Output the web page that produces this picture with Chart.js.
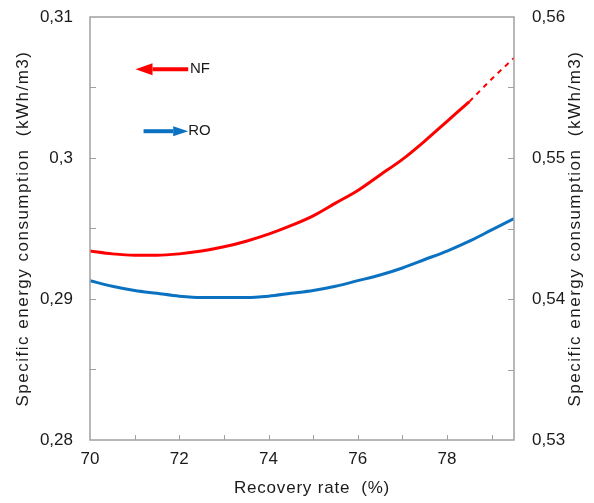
<!DOCTYPE html>
<html>
<head>
<meta charset="utf-8">
<script src="https://cdn.jsdelivr.net/npm/chart.js@4/dist/chart.umd.min.js"></script>
<style>
  html, body { margin: 0; padding: 0; background: #fff; }
  #wrap { width: 594px; height: 503px; position: relative; }
</style>
</head>
<body>
<div id="wrap"><canvas id="secChart"></canvas></div>
<script>
// Recovery rate (%) for each curve
const recovery = [70, 70.5, 71, 71.5, 72, 72.5, 73, 73.5, 74, 74.5, 75, 75.5, 76, 76.5, 77, 77.5, 78, 78.5, 79, 79.5];
// NF specific energy consumption (left axis, kWh/m3) - solid part up to 78.5
const nfSolid = [0.2934, 0.2932, 0.2931, 0.2931, 0.2932, 0.2934, 0.2937, 0.2941, 0.2946, 0.2952, 0.2959, 0.2968, 0.2977, 0.2988, 0.2999, 0.3012, 0.3026, 0.3040];
// NF extrapolated (dashed) part
const nfDashedX = [78.5, 79, 79.5];
const nfDashed = [0.3040, 0.3056, 0.3071];
// RO specific energy consumption (right axis, kWh/m3)
const roValues = [0.5413, 0.5409, 0.5406, 0.5404, 0.5402, 0.5401, 0.5401, 0.5401, 0.5402, 0.5404, 0.5406, 0.5409, 0.5413, 0.5417, 0.5422, 0.5428, 0.5434, 0.5441, 0.5449, 0.5457];

const xTicks = [70, 72, 74, 76, 78];
const leftTicks = [0.28, 0.29, 0.3, 0.31];
const rightTicks = [0.53, 0.54, 0.55, 0.56];

const X_TITLE = 'Recovery rate  (%)';
const Y_TITLE = 'Specific energy consumption  (kWh/m3)';

const NF_COLOR = '#ff0000';
const RO_COLOR = '#0b72c1';
const AXIS_COLOR = '#a0a0a0';
const TEXT_COLOR = '#1a1a1a';
const FONT = '"Liberation Sans", Arial, sans-serif';

function pts(xs, ys) {
    return ys.map((y, i) => ({ x: xs[i], y: y }));
}

function fmt(v) {
    return String(Math.round(v * 1000) / 1000).replace('.', ',');
}

// frame, inward tick marks, axis titles and the NF / RO arrows
const decorPlugin = {
    id: 'decor',
    afterDatasetsDraw(chart) {
        const ctx = chart.ctx;
        const a = chart.chartArea;
        const sx = chart.scales.x, yl = chart.scales.yL, yr = chart.scales.yR;
        ctx.save();
        ctx.strokeStyle = AXIS_COLOR;
        ctx.lineWidth = 1.5;
        ctx.strokeRect(a.left, a.top, a.right - a.left, a.bottom - a.top);

        ctx.lineWidth = 1;
        ctx.beginPath();
        for (let v = 71; v <= 79; v++) {
            const px = Math.round(sx.getPixelForValue(v)) + 0.5;
            ctx.moveTo(px, a.bottom);
            ctx.lineTo(px, a.bottom - 5);
        }
        for (let i = 1; i < 6; i++) {
            const v = 0.28 + i * 0.005;
            const py = Math.round(yl.getPixelForValue(v)) + 0.5;
            ctx.moveTo(a.left, py);
            ctx.lineTo(a.left + 6, py);
            const w = 0.53 + i * 0.005;
            const qy = Math.round(yr.getPixelForValue(w)) + 0.5;
            ctx.moveTo(a.right, qy);
            ctx.lineTo(a.right - 6, qy);
        }
        ctx.stroke();

        // arrows (data-space positions on the left axis)
        drawArrow(ctx, sx.getPixelForValue(72.2), sx.getPixelForValue(71.02), yl.getPixelForValue(0.3063), NF_COLOR, 17, 6);
        drawArrow(ctx, sx.getPixelForValue(71.2), sx.getPixelForValue(72.2), yl.getPixelForValue(0.3019), RO_COLOR, 15, 5);

        ctx.fillStyle = TEXT_COLOR;
        ctx.font = '15px ' + FONT;
        ctx.textBaseline = 'middle';
        ctx.textAlign = 'left';
        ctx.fillText('NF', sx.getPixelForValue(72.24), yl.getPixelForValue(0.3063));
        ctx.fillText('RO', sx.getPixelForValue(72.2), yl.getPixelForValue(0.3019));

        // axis titles (slightly letter-spaced like the original), both read bottom to top
        ctx.font = '17px ' + FONT;
        ctx.textAlign = 'center';
        ctx.textBaseline = 'middle';
        const midY = (a.top + a.bottom) / 2;
        ctx.letterSpacing = '1.5px';
        [23, 575].forEach(cx => {
            ctx.save();
            ctx.translate(cx, midY);
            ctx.rotate(-Math.PI / 2);
            ctx.fillText(Y_TITLE, 0, 0);
            ctx.restore();
        });
        ctx.letterSpacing = '0.8px';
        ctx.fillText(X_TITLE, (a.left + a.right) / 2 + 10, 488);
        ctx.restore();
    }
};

function drawArrow(ctx, x0, x1, y, color, head, half) {
    const dir = x1 > x0 ? 1 : -1;
    ctx.strokeStyle = color;
    ctx.fillStyle = color;
    ctx.lineWidth = 4;
    ctx.beginPath();
    ctx.moveTo(x0, y);
    ctx.lineTo(x1 - dir * head, y);
    ctx.stroke();
    ctx.beginPath();
    ctx.moveTo(x1, y);
    ctx.lineTo(x1 - dir * head, y - half);
    ctx.lineTo(x1 - dir * head, y + half);
    ctx.closePath();
    ctx.fill();
}

const tickFont = { family: FONT, size: 17 };
// invisible tick marks are used as the label gap so the chart area is not pushed down
const hiddenGrid = len => ({ display: true, color: 'transparent', drawOnChartArea: false, drawTicks: true, tickLength: len });

new Chart(document.getElementById('secChart'), {
    type: 'scatter',
    data: {
        datasets: [
            {
                label: 'NF',
                data: pts(recovery, nfSolid),
                yAxisID: 'yL',
                showLine: true,
                borderColor: NF_COLOR,
                borderWidth: 3,
                pointRadius: 0,
                cubicInterpolationMode: 'monotone'
            },
            {
                label: 'NF (extrapolated)',
                data: pts(nfDashedX, nfDashed),
                yAxisID: 'yL',
                showLine: true,
                borderColor: NF_COLOR,
                borderWidth: 2,
                borderDash: [5, 5],
                pointRadius: 0,
                cubicInterpolationMode: 'monotone'
            },
            {
                label: 'RO',
                data: pts(recovery, roValues),
                yAxisID: 'yR',
                showLine: true,
                borderColor: RO_COLOR,
                borderWidth: 3,
                pointRadius: 0,
                cubicInterpolationMode: 'monotone'
            }
        ]
    },
    options: {
        responsive: true,
        maintainAspectRatio: false,
        animation: false,
        layout: { padding: { top: 17, left: 0, right: 0, bottom: 0 } },
        plugins: {
            legend: { display: false },
            tooltip: { enabled: false }
        },
        scales: {
            x: {
                type: 'linear',
                position: 'bottom',
                min: 70,
                max: 79.5,
                afterBuildTicks: s => { s.ticks = xTicks.map(v => ({ value: v })); },
                afterFit: s => { s.height = 63; },
                grid: hiddenGrid(9),
                border: { display: false },
                ticks: { color: TEXT_COLOR, font: tickFont, padding: 0, maxRotation: 0 }
            },
            yL: {
                type: 'linear',
                position: 'left',
                min: 0.28,
                max: 0.31,
                afterBuildTicks: s => { s.ticks = leftTicks.map(v => ({ value: v })); },
                afterFit: s => { s.width = 90; },
                grid: hiddenGrid(17),
                border: { display: false },
                ticks: { color: TEXT_COLOR, font: tickFont, padding: 0, callback: v => fmt(v) }
            },
            yR: {
                type: 'linear',
                position: 'right',
                min: 0.53,
                max: 0.56,
                afterBuildTicks: s => { s.ticks = rightTicks.map(v => ({ value: v })); },
                afterFit: s => { s.width = 80; },
                grid: hiddenGrid(18),
                border: { display: false },
                ticks: { color: TEXT_COLOR, font: tickFont, padding: 0, callback: v => fmt(v) }
            }
        }
    },
    plugins: [decorPlugin]
});
</script>
</body>
</html>
